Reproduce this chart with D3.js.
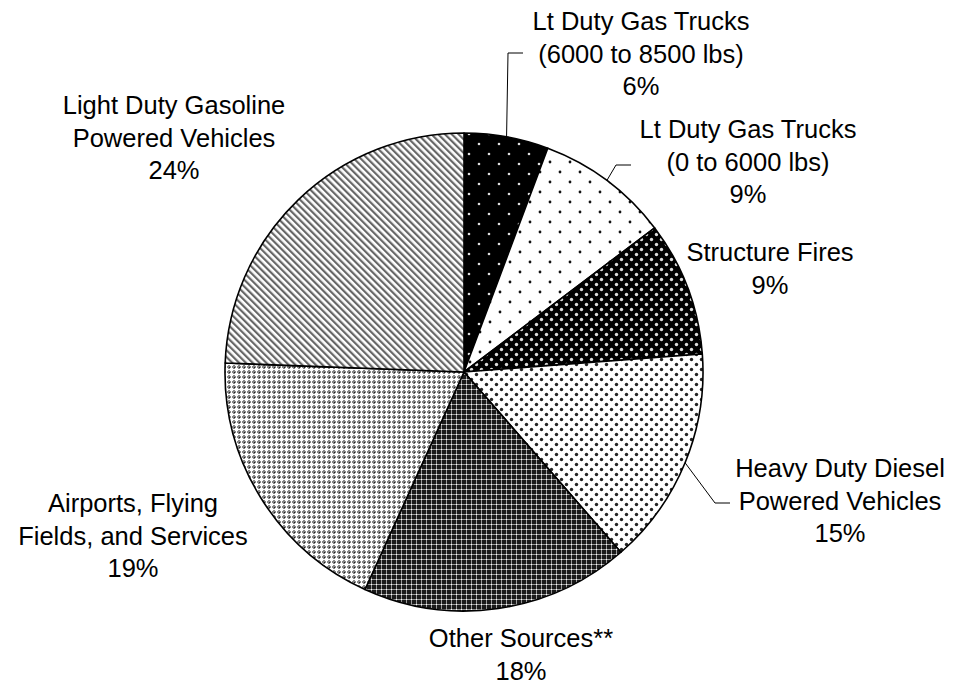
<!DOCTYPE html>
<html lang="en">
<head>
    <meta charset="UTF-8">
    <title>Emission Sources</title>
    <script src="https://cdnjs.cloudflare.com/ajax/libs/d3/7.4.4/d3.min.js"></script>
    <style>
        body {
            margin: 0;
            background: #fff;
        }
        #chart text {
            font-family: "Liberation Sans", Arial, sans-serif;
            font-size: 25.5px;
            fill: #000;
        }
    </style>
</head>
<body>
    <div id="chart"></div>

    <script>
        // Slices, clockwise from 12 o'clock
        const categories = [
            ["Lt Duty Gas Trucks", "(6000 to 8500 lbs)"],
            ["Lt Duty Gas Trucks", "(0 to 6000 lbs)"],
            ["Structure Fires"],
            ["Heavy Duty Diesel", "Powered Vehicles"],
            ["Other Sources**"],
            ["Airports, Flying", "Fields, and Services"],
            ["Light Duty Gasoline", "Powered Vehicles"]
        ];
        const shares = [5.7, 9.0, 9.1, 14.8, 18.2, 18.8, 24.4];
        const percentLabels = ["6%", "9%", "9%", "15%", "18%", "19%", "24%"];

        const width = 955, height = 685;
        const cx = 464, cy = 372, radius = 239;

        // label block: centre x, first baseline y
        const labelPos = [
            [641, 30], [748, 138], [770, 261], [840, 477],
            [521, 647], [133, 512], [174, 114]
        ];
        // leader lines: elbow point, end point (null = no leader)
        const leaders = [
            [[508, 53], [523, 53]],
            [[616, 165], [631, 165]],
            null,
            [[715, 503], [730, 503]],
            null, null, null
        ];

        const svg = d3.select("#chart").append("svg")
            .attr("width", width)
            .attr("height", height);

        const defs = svg.append("defs");

        function dotPattern(id, size, bg, fg, r, pts) {
            const p = defs.append("pattern")
                .attr("id", id)
                .attr("patternUnits", "userSpaceOnUse")
                .attr("width", size).attr("height", size);
            p.append("rect").attr("width", size).attr("height", size).attr("fill", bg);
            pts.forEach(d => {
                p.append("circle").attr("cx", d[0]).attr("cy", d[1]).attr("r", r).attr("fill", fg);
            });
        }

        dotPattern("p0", 20, "#000", "#ddd", 1.3, [[5, 2], [15, 12]]);
        dotPattern("p1", 20, "#fff", "#111", 1.4, [[6, 10], [16, 0], [16, 20]]);
        dotPattern("p2", 10, "#000", "#ddd", 1.7, [[2.5, 2.5], [7.5, 7.5]]);
        dotPattern("p3", 10, "#fff", "#222", 1.7, [[2.5, 2.5], [7.5, 7.5]]);

        // dark: grey lattice on black, white at crossings
        const p4 = defs.append("pattern").attr("id", "p4")
            .attr("patternUnits", "userSpaceOnUse").attr("width", 5).attr("height", 5);
        p4.append("rect").attr("width", 5).attr("height", 5).attr("fill", "#1a1a1a");
        p4.append("rect").attr("x", 0).attr("y", 2).attr("width", 5).attr("height", 1).attr("fill", "#9a9a9a");
        p4.append("rect").attr("x", 2).attr("y", 0).attr("width", 1).attr("height", 5).attr("fill", "#9a9a9a");
        p4.append("rect").attr("x", 2).attr("y", 2).attr("width", 1).attr("height", 1).attr("fill", "#fff");

        // white crosses on grey
        const p5 = defs.append("pattern").attr("id", "p5")
            .attr("patternUnits", "userSpaceOnUse").attr("width", 5).attr("height", 5);
        p5.append("rect").attr("width", 5).attr("height", 5).attr("fill", "#888");
        p5.append("rect").attr("x", 0).attr("y", 2).attr("width", 5).attr("height", 1).attr("fill", "#fff");
        p5.append("rect").attr("x", 2).attr("y", 0).attr("width", 1).attr("height", 5).attr("fill", "#fff");
        p5.append("rect").attr("x", 1).attr("y", 1).attr("width", 3).attr("height", 3).attr("fill", "#fff");
        p5.append("rect").attr("x", 0).attr("y", 0).attr("width", 1).attr("height", 1).attr("fill", "#222");

        // diagonal stripes
        const p6 = defs.append("pattern").attr("id", "p6")
            .attr("patternUnits", "userSpaceOnUse").attr("width", 4.8).attr("height", 10)
            .attr("patternTransform", "rotate(-45)");
        p6.append("rect").attr("width", 4.8).attr("height", 10).attr("fill", "#fff");
        p6.append("rect").attr("width", 2.2).attr("height", 10).attr("fill", "#666");

        const pie = d3.pie().sort(null).value(d => d)(shares);
        const arc = d3.arc().innerRadius(0).outerRadius(radius);

        const g = svg.append("g").attr("transform", `translate(${cx},${cy})`);

        g.selectAll("path.slice")
            .data(pie)
            .join("path")
            .attr("class", "slice")
            .attr("d", arc)
            .attr("fill", (d, i) => `url(#p${i})`)
            .attr("stroke", "#000")
            .attr("stroke-width", 1.6)
            .attr("stroke-linejoin", "round");

        // leader lines
        pie.forEach((d, i) => {
            if (!leaders[i]) return;
            const a = (d.startAngle + d.endAngle) / 2;
            const start = [cx + radius * Math.sin(a), cy - radius * Math.cos(a)];
            svg.append("polyline")
                .attr("points", [start, leaders[i][0], leaders[i][1]].map(p => p.join(",")).join(" "))
                .attr("fill", "none")
                .attr("stroke", "#000")
                .attr("stroke-width", 1);
        });

        // labels
        categories.forEach((lines, i) => {
            const t = svg.append("text")
                .attr("text-anchor", "middle")
                .attr("x", labelPos[i][0])
                .attr("y", labelPos[i][1]);
            lines.concat(percentLabels[i]).forEach((s, k) => {
                t.append("tspan")
                    .attr("x", labelPos[i][0])
                    .attr("dy", k === 0 ? 0 : 32.5)
                    .text(s);
            });
        });
    </script>
</body>
</html>
